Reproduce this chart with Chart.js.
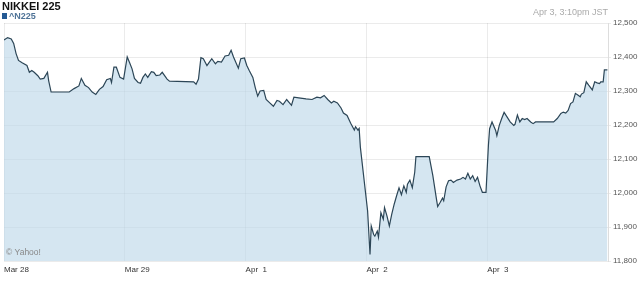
<!DOCTYPE html>
<html>
<head>
<meta charset="utf-8">
<script src="https://cdn.jsdelivr.net/npm/chart.js@4.4.0/dist/chart.umd.min.js"></script>
<style>
  html, body { margin: 0; padding: 0; background: #fff; }
  #wrap { width: 640px; height: 283px; }
</style>
</head>
<body>
<div id="wrap"><canvas id="nikkeiChart"></canvas></div>
<script>
const dayLabels = ['Mar 28', 'Mar 29', 'Apr  1', 'Apr  2', 'Apr  3'];
const yTicks = [11800, 11900, 12000, 12100, 12200, 12300, 12400, 12500];

// time = fraction of that day's trading session
const mar28Time = [0.00, 0.03, 0.06, 0.08, 0.10, 0.12, 0.15, 0.19, 0.21, 0.23, 0.25, 0.28, 0.30, 0.33, 0.36, 0.37, 0.39, 0.54, 0.58, 0.62, 0.64, 0.67, 0.70, 0.73, 0.76, 0.79, 0.82, 0.85, 0.88, 0.89, 0.91, 0.93, 0.96, 0.99];
const mar28Value = [12450, 12457, 12453, 12440, 12410, 12390, 12383, 12375, 12355, 12360, 12355, 12345, 12335, 12337, 12355, 12330, 12297, 12297, 12307, 12315, 12337, 12317, 12310, 12297, 12290, 12305, 12313, 12333, 12337, 12325, 12370, 12370, 12340, 12335];

const mar29Time = [0.02, 0.04, 0.06, 0.08, 0.11, 0.13, 0.15, 0.17, 0.19, 0.22, 0.24, 0.26, 0.29, 0.31, 0.35, 0.37, 0.57, 0.59, 0.61, 0.63, 0.65, 0.68, 0.70, 0.72, 0.75, 0.77, 0.80, 0.83, 0.86, 0.88, 0.90, 0.94, 0.96, 0.99];
const mar29Value = [12400, 12383, 12365, 12337, 12325, 12323, 12340, 12350, 12340, 12357, 12355, 12345, 12347, 12355, 12335, 12329, 12327, 12320, 12335, 12398, 12395, 12375, 12385, 12395, 12380, 12387, 12385, 12403, 12405, 12420, 12400, 12367, 12395, 12397];

const apr1Time = [0.01, 0.03, 0.06, 0.08, 0.10, 0.12, 0.15, 0.17, 0.20, 0.23, 0.26, 0.28, 0.31, 0.34, 0.38, 0.40, 0.44, 0.50, 0.55, 0.59, 0.62, 0.65, 0.68, 0.71, 0.73, 0.76, 0.79, 0.81, 0.84, 0.87, 0.90, 0.91, 0.93, 0.94, 0.95];
const apr1Value = [12375, 12360, 12340, 12310, 12285, 12300, 12302, 12275, 12265, 12255, 12272, 12270, 12260, 12275, 12258, 12282, 12280, 12277, 12275, 12282, 12280, 12287, 12275, 12265, 12270, 12265, 12250, 12235, 12228, 12205, 12185, 12195, 12185, 12190, 12135];

const apr2Time = [0.01, 0.03, 0.04, 0.06, 0.07, 0.09, 0.10, 0.12, 0.14, 0.15, 0.17, 0.19, 0.21, 0.23, 0.25, 0.27, 0.29, 0.31, 0.33, 0.34, 0.36, 0.38, 0.40, 0.41, 0.52, 0.55, 0.58, 0.59, 0.61, 0.63, 0.64, 0.66, 0.68, 0.70, 0.72, 0.75, 0.78, 0.80, 0.82, 0.84, 0.86, 0.88, 0.90, 0.92, 0.94, 0.96, 0.99];
const apr2Value = [11947, 11819, 11903, 11878, 11873, 11888, 11870, 11942, 11923, 11957, 11933, 11903, 11938, 11967, 11992, 12015, 11995, 12021, 12002, 12026, 12038, 12016, 12061, 12107, 12107, 12051, 11982, 11960, 11972, 11985, 11977, 12018, 12036, 12038, 12031, 12038, 12041, 12046, 12041, 12058, 12041, 12051, 12034, 12046, 12021, 12002, 12002];

const apr3Time = [0.01, 0.02, 0.04, 0.07, 0.08, 0.10, 0.12, 0.14, 0.16, 0.19, 0.22, 0.23, 0.25, 0.27, 0.29, 0.31, 0.33, 0.36, 0.38, 0.40, 0.55, 0.58, 0.61, 0.63, 0.65, 0.67, 0.69, 0.71, 0.73, 0.75, 0.77, 0.78, 0.80, 0.82, 0.84, 0.87, 0.89, 0.91, 0.93, 0.94, 0.96, 0.97, 0.995];
const apr3Value = [12140, 12189, 12209, 12184, 12169, 12199, 12219, 12237, 12226, 12209, 12199, 12202, 12229, 12209, 12219, 12216, 12219, 12209, 12204, 12209, 12209, 12219, 12234, 12238, 12235, 12243, 12263, 12268, 12293, 12288, 12283, 12291, 12295, 12327, 12317, 12303, 12327, 12324, 12322, 12327, 12327, 12362, 12362];

const days = [
    [mar28Time, mar28Value],
    [mar29Time, mar29Value],
    [apr1Time, apr1Value],
    [apr2Time, apr2Value],
    [apr3Time, apr3Value]
];
const points = [];
days.forEach(([times, values], d) => {
    times.forEach((t, i) => points.push({ x: d + t, y: values[i] }));
});

const headerPlugin = {
    id: 'header',
    afterDatasetsDraw(chart) {
        const ctx = chart.ctx;
        const area = chart.chartArea;
        ctx.save();
        ctx.fillStyle = '#888';
        ctx.font = '8.5px "Liberation Sans", Arial, sans-serif';
        ctx.textBaseline = 'middle';
        ctx.fillText('\u00A9 Yahoo!', area.left + 2, area.bottom - 8);
        ctx.restore();
    },
    afterDraw(chart) {
        const ctx = chart.ctx;
        const area = chart.chartArea;
        ctx.save();
        ctx.textBaseline = 'alphabetic';
        ctx.fillStyle = '#111';
        ctx.font = 'bold 11px "Liberation Sans", Arial, sans-serif';
        ctx.fillText('NIKKEI 225', 2, 10);

        ctx.fillStyle = '#245a94';
        ctx.fillRect(2, 13, 5, 6);
        ctx.fillStyle = '#4f7397';
        ctx.font = 'bold 9px "Liberation Sans", Arial, sans-serif';
        ctx.fillText('^N225', 9, 19);

        ctx.fillStyle = '#aaa';
        ctx.font = '9px "Liberation Sans", Arial, sans-serif';
        ctx.textAlign = 'right';
        ctx.fillText('Apr 3, 3:10pm JST', area.right, 15);
        ctx.restore();
    }
};

const ctx = document.getElementById('nikkeiChart').getContext('2d');
new Chart(ctx, {
    type: 'line',
    data: {
        datasets: [{
            label: '^N225',
            data: points,
            borderColor: '#2c4657',
            borderWidth: 1.2,
            backgroundColor: 'rgba(190, 216, 234, 0.65)',
            pointRadius: 0,
            tension: 0,
            fill: 'start'
        }]
    },
    options: {
        responsive: true,
        maintainAspectRatio: false,
        animation: false,
        devicePixelRatio: 1,
        layout: { padding: { top: 23, left: 3, right: 0, bottom: 0 } },
        plugins: {
            legend: { display: false },
            title: { display: false },
            tooltip: { enabled: false }
        },
        scales: {
            x: {
                type: 'linear',
                min: 0,
                max: 5,
                afterBuildTicks: scale => {
                    scale.ticks = dayLabels.map((_, i) => ({ value: i }));
                },
                afterFit: scale => { scale.height = 22; },
                ticks: {
                    align: 'start',
                    maxRotation: 0,
                    autoSkip: false,
                    padding: 4,
                    color: '#333',
                    font: { family: '"Liberation Sans", Arial, sans-serif', size: 8 },
                    callback: v => dayLabels[v] ?? ''
                },
                grid: { color: 'rgba(0, 0, 0, 0.08)', drawTicks: false },
                border: { display: false }
            },
            y: {
                position: 'right',
                min: 11800,
                max: 12500,
                afterBuildTicks: scale => {
                    scale.ticks = yTicks.map(v => ({ value: v }));
                },
                afterFit: scale => { scale.width = 32; },
                ticks: {
                    padding: 2,
                    color: '#555',
                    font: { family: '"Liberation Sans", Arial, sans-serif', size: 8 },
                    callback: v => v.toLocaleString('en-US')
                },
                grid: { color: 'rgba(0, 0, 0, 0.08)', tickLength: 3 },
                border: { display: true, color: '#ddd' }
            }
        }
    },
    plugins: [headerPlugin]
});
</script>
</body>
</html>
